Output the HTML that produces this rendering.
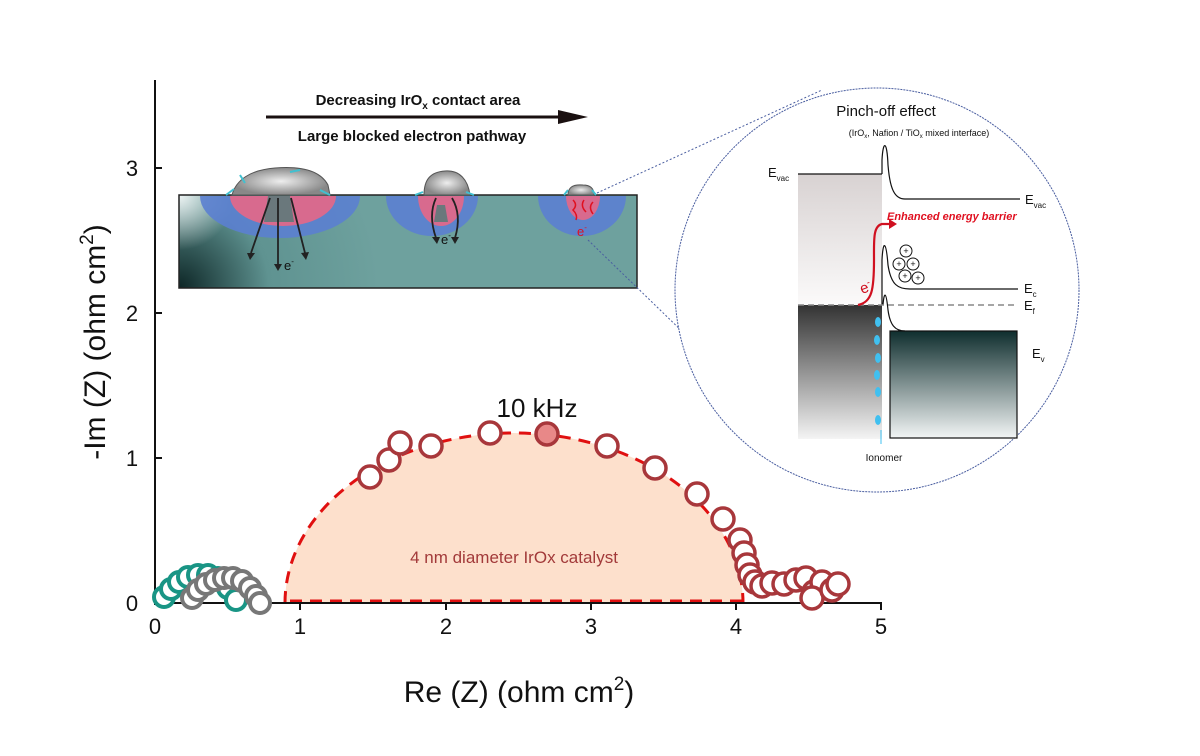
<!DOCTYPE html>
<html><head><meta charset="utf-8"><style>
body{margin:0;background:#fff}
svg{display:block}
text{font-family:"Liberation Sans",sans-serif}
</style></head><body>
<svg width="1200" height="756" viewBox="0 0 1200 756">
<defs>
<radialGradient id="sub" cx="179" cy="288" r="200" gradientUnits="userSpaceOnUse">
<stop offset="0" stop-color="#0d2626"/><stop offset="0.45" stop-color="#5f9391"/><stop offset="1" stop-color="#6ea19e"/></radialGradient>
<radialGradient id="wh" cx="179" cy="195" r="55" gradientUnits="userSpaceOnUse"><stop offset="0" stop-color="#fff"/><stop offset="1" stop-color="#fff" stop-opacity="0"/></radialGradient>
<clipPath id="cp"><rect x="179" y="195" width="458" height="93"/></clipPath>
<linearGradient id="lt" x1="0" y1="0" x2="0" y2="1"><stop offset="0" stop-color="#d8d2d2"/><stop offset="1" stop-color="#fbfafa"/></linearGradient>
<linearGradient id="dk" x1="0" y1="0" x2="0" y2="1"><stop offset="0" stop-color="#333"/><stop offset="1" stop-color="#f4f4f4"/></linearGradient>
<linearGradient id="tl" x1="0" y1="0" x2="0" y2="1"><stop offset="0" stop-color="#0f2e2e"/><stop offset="1" stop-color="#f2f5f5"/></linearGradient>
<radialGradient id="gr"><stop offset="0" stop-color="#eee"/><stop offset="1" stop-color="#888"/></radialGradient>
</defs>

<path d="M285 603 A229 170 0 0 1 743 603 Z" fill="#fde0cc"/>
<path d="M285 603 A229 170 0 0 1 743 603" fill="none" stroke="#e01010" stroke-width="3" stroke-dasharray="12 8"/>
<line x1="290" y1="601" x2="743" y2="601" stroke="#e01010" stroke-width="3" stroke-dasharray="12 8"/>
<text x="514" y="563" font-size="17" fill="#a23a3a" text-anchor="middle">4 nm diameter IrOx catalyst</text>

<g stroke="#111" stroke-width="2">
<line x1="155" y1="80" x2="155" y2="605"/>
<line x1="154" y1="603" x2="882" y2="603"/>
<line x1="155" y1="168" x2="162" y2="168"/><line x1="155" y1="313" x2="162" y2="313"/><line x1="155" y1="458" x2="162" y2="458"/>
<line x1="300" y1="603" x2="300" y2="610"/><line x1="446" y1="603" x2="446" y2="610"/><line x1="591" y1="603" x2="591" y2="610"/><line x1="736" y1="603" x2="736" y2="610"/><line x1="881" y1="603" x2="881" y2="610"/>
</g>
<g font-size="22" fill="#111" text-anchor="middle">
<text x="155" y="634">0</text><text x="300" y="634">1</text><text x="446" y="634">2</text><text x="591" y="634">3</text><text x="736" y="634">4</text><text x="881" y="634">5</text>
<text x="132" y="611">0</text><text x="132" y="466">1</text><text x="132" y="321">2</text><text x="132" y="176">3</text>
</g>
<text x="519" y="702" font-size="30" text-anchor="middle" fill="#111">Re (Z) (ohm cm<tspan font-size="19" dy="-12">2</tspan><tspan dy="12">)</tspan></text>
<text transform="translate(105,342) rotate(-90)" font-size="30" text-anchor="middle" fill="#111">-Im (Z) (ohm cm<tspan font-size="19" dy="-12">2</tspan><tspan dy="12">)</tspan></text>
<text x="537" y="417" font-size="26" text-anchor="middle" fill="#111">10 kHz</text>

<g fill="#fff" stroke="#199585" stroke-width="4">
<circle cx="164" cy="597" r="10"/><circle cx="171" cy="589" r="10"/><circle cx="179" cy="582" r="10"/><circle cx="188" cy="577" r="10"/><circle cx="198" cy="575" r="10"/><circle cx="208" cy="575" r="10"/><circle cx="218" cy="578" r="10"/><circle cx="228" cy="588" r="10"/><circle cx="236" cy="600" r="10"/>
</g>
<g fill="#fff" stroke="#777" stroke-width="4">
<circle cx="192" cy="598" r="10"/><circle cx="198" cy="590" r="10"/><circle cx="206" cy="584" r="10"/><circle cx="215" cy="580" r="10"/><circle cx="224" cy="578" r="10"/><circle cx="233" cy="578" r="10"/><circle cx="242" cy="581" r="10"/><circle cx="250" cy="588" r="10"/><circle cx="256" cy="596" r="10"/><circle cx="260" cy="603" r="10"/>
</g>
<g fill="#fff" stroke="#a8373b" stroke-width="3.5">
<circle cx="370" cy="477" r="11"/><circle cx="389" cy="460" r="11"/><circle cx="400" cy="443" r="11"/><circle cx="431" cy="446" r="11"/><circle cx="490" cy="433" r="11"/>
<circle cx="547" cy="434" r="11" fill="#e88888"/>
<circle cx="607" cy="446" r="11"/><circle cx="655" cy="468" r="11"/><circle cx="697" cy="494" r="11"/><circle cx="723" cy="519" r="11"/><circle cx="740" cy="540" r="11"/><circle cx="744" cy="553" r="11"/><circle cx="747" cy="565" r="11"/><circle cx="750" cy="575" r="11"/><circle cx="755" cy="582" r="11"/><circle cx="762" cy="586" r="11"/><circle cx="772" cy="583" r="11"/><circle cx="784" cy="584" r="11"/><circle cx="796" cy="580" r="11"/><circle cx="806" cy="578" r="11"/><circle cx="814" cy="592" r="11"/><circle cx="822" cy="582" r="11"/><circle cx="812" cy="598" r="11"/><circle cx="832" cy="590" r="11"/><circle cx="838" cy="584" r="11"/>
</g>

<line x1="266" y1="117" x2="560" y2="117" stroke="#1a1010" stroke-width="3"/>
<polygon points="558,110 588,117 558,124" fill="#1a1010"/>
<text x="418" y="105" font-size="15" font-weight="bold" text-anchor="middle" fill="#111">Decreasing IrO<tspan font-size="10" dy="4">x</tspan><tspan dy="-4"> contact area</tspan></text>
<text x="412" y="141" font-size="15" font-weight="bold" text-anchor="middle" fill="#111">Large blocked electron pathway</text>
<rect x="179" y="195" width="458" height="93" fill="url(#sub)"/>
<g clip-path="url(#cp)">
<rect x="179" y="195" width="60" height="60" fill="url(#wh)" opacity="0.9"/>
<g fill="#5b7fd0" opacity="0.9">
<path d="M200 196 A80 42 0 0 0 360 196Z"/>
<path d="M386 196 A46 40 0 0 0 478 196Z"/>
<path d="M538 196 A44 40 0 0 0 626 196Z"/>
</g>
<path d="M230 196 A53 30 0 0 0 336 196Z" fill="#d86a8e"/>
<path d="M418 196 A23 30 0 0 0 464 196Z" fill="#d86a8e"/>
<path d="M566 196 A17 24 0 0 0 600 196Z" fill="#d86a8e"/>
<path d="M268 196 L290 196 L294 222 L264 222Z" fill="#4f7c78" opacity="0.8"/>
<path d="M437 205 L445 205 L448 222 L434 222Z" fill="#4f7c78" opacity="0.8"/>
</g>
<rect x="179" y="195" width="458" height="93" fill="none" stroke="#222" stroke-width="1.5"/>
<path d="M232 195 C236 180 250 170 275 168 C300 166 320 170 328 185 L330 195Z" fill="url(#gr)" stroke="#555"/>
<path d="M424 195 C424 180 430 172 445 171 C460 170 468 180 470 195Z" fill="url(#gr)" stroke="#555"/>
<path d="M568 195 C568 188 572 184 583 185 C592 185 594 190 594 195Z" fill="url(#gr)" stroke="#555"/>
<g stroke="#40c0d0" stroke-width="2" fill="none">
<path d="M226 195 l8 -6 M320 190 l10 5 M240 175 l5 8 M290 172 l10 -2 M423 192 l-8 3 M466 192 l8 3 M568 190 l-4 5 M592 190 l4 5"/>
</g>
<g stroke="#222" stroke-width="1.8" fill="none">
<line x1="270" y1="198" x2="251" y2="253"/><line x1="278" y1="198" x2="278" y2="265"/><line x1="291" y1="198" x2="305" y2="253"/>
<path d="M436 198 Q428 215 436 238"/><path d="M452 198 Q462 215 455 238"/>
</g>
<g fill="#222"><polygon points="247,253 255,253 250,260"/><polygon points="274,264 282,264 278,271"/><polygon points="301,253 309,252 306,260"/><polygon points="432,237 440,237 437,244"/><polygon points="451,237 459,237 455,244"/></g>
<text x="284" y="270" font-size="13" fill="#111">e<tspan font-size="8" dy="-6">-</tspan></text>
<text x="441" y="244" font-size="13" fill="#111">e<tspan font-size="8" dy="-6">-</tspan></text>
<text x="577" y="236" font-size="13" fill="#e01020">e<tspan font-size="8" dy="-6">-</tspan></text>
<path d="M573 200 q5 5 0 10 q5 5 3 10 M584 200 q-4 6 2 12 M593 202 q-5 5 0 12" stroke="#e01020" stroke-width="1.5" fill="none"/>

<line x1="597" y1="193" x2="822" y2="90" stroke="#4a5ea0" stroke-width="1" stroke-dasharray="2 2"/>
<line x1="588" y1="240" x2="790" y2="436" stroke="#4a5ea0" stroke-width="1" stroke-dasharray="2 2"/>
<circle cx="877" cy="290" r="202" fill="#fff" stroke="#4a5ea0" stroke-width="1" stroke-dasharray="2 1"/>

<text x="886" y="116" font-size="15" text-anchor="middle" fill="#111">Pinch-off effect</text>
<text x="919" y="136" font-size="9" text-anchor="middle" fill="#111">(IrO<tspan font-size="6" dy="2">x</tspan><tspan dy="-2">, Nafion / TiO</tspan><tspan font-size="6" dy="2">x</tspan><tspan dy="-2"> mixed interface)</tspan></text>
<rect x="798" y="174" width="84" height="131" fill="url(#lt)"/>
<rect x="798" y="305" width="84" height="134" fill="url(#dk)"/>
<rect x="890" y="331" width="127" height="107" fill="url(#tl)" stroke="#111" stroke-width="1.2"/>
<line x1="798" y1="174" x2="882" y2="174" stroke="#111" stroke-width="1.2"/>
<path d="M882 174 L882 160 C883 140 887 140 888 165 C890 190 895 199 905 199 L1020 199" fill="none" stroke="#111" stroke-width="1.2"/>
<path d="M882 305 L882 260 C883 240 886 240 888 265 C891 285 898 289 910 289 L1018 289" fill="none" stroke="#111" stroke-width="1.2"/>
<path d="M883 305 C884 292 886 290 888 310 C890 325 895 331 905 331" fill="none" stroke="#111" stroke-width="1.2"/>
<line x1="798" y1="305" x2="1018" y2="305" stroke="#888" stroke-width="1.5" stroke-dasharray="6 4"/>
<text x="768" y="177" font-size="13" fill="#111">E<tspan font-size="8" dy="4">vac</tspan></text>
<text x="1025" y="204" font-size="13" fill="#111">E<tspan font-size="8" dy="4">vac</tspan></text>
<text x="1024" y="293" font-size="13" fill="#111">E<tspan font-size="8" dy="4">c</tspan></text>
<text x="1024" y="310" font-size="13" fill="#111">E<tspan font-size="8" dy="4">f</tspan></text>
<text x="1032" y="358" font-size="13" fill="#111">E<tspan font-size="8" dy="4">v</tspan></text>
<text x="887" y="220" font-size="11" font-weight="bold" font-style="italic" fill="#e01020">Enhanced energy barrier</text>
<path d="M858 305 C872 302 874 290 874 260 C874 240 873 226 882 224 L890 224" fill="none" stroke="#d01020" stroke-width="2.2"/>
<polygon points="889,219 897,224 889,229" fill="#d01020"/>
<text x="862" y="294" font-size="15" fill="#d01020" transform="rotate(-20 862 294)">e<tspan font-size="9" dy="-6">-</tspan></text>
<g fill="#fff" stroke="#111" stroke-width="1">
<circle cx="906" cy="251" r="6"/><circle cx="899" cy="264" r="6"/><circle cx="913" cy="264" r="6"/><circle cx="905" cy="276" r="6"/><circle cx="918" cy="278" r="6"/>
</g>
<g font-size="9" text-anchor="middle" fill="#111"><text x="906" y="254">+</text><text x="899" y="267">+</text><text x="913" y="267">+</text><text x="905" y="279">+</text><text x="918" y="281">+</text></g>
<g fill="#40c0f0"><ellipse cx="878" cy="322" rx="3" ry="5"/><ellipse cx="877" cy="340" rx="3" ry="5"/><ellipse cx="878" cy="358" rx="3" ry="5"/><ellipse cx="877" cy="375" rx="3" ry="5"/><ellipse cx="878" cy="392" rx="3" ry="5"/><ellipse cx="878" cy="420" rx="3" ry="5"/></g>
<line x1="881" y1="430" x2="881" y2="444" stroke="#40c0f0" stroke-width="1"/>
<text x="884" y="461" font-size="10" text-anchor="middle" fill="#111">Ionomer</text>
</svg>
</body></html>
